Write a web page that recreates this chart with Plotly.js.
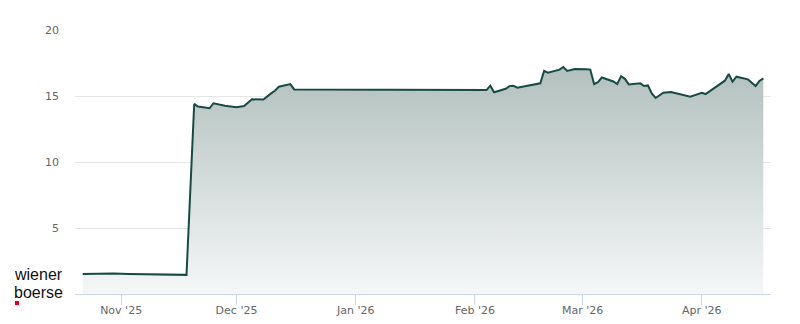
<!DOCTYPE html>
<html>
<head>
<meta charset="utf-8">
<script src="https://cdn.plot.ly/plotly-3.0.1.min.js"></script>
<style>html,body{margin:0;padding:0;background:#fff}#chart{width:800px;height:324px}</style>
</head>
<body>
<div id="chart"></div>
<script>
const dates = [
  '2025-10-22','2025-10-27','2025-10-30','2025-11-03','2025-11-06','2025-11-10','2025-11-11','2025-11-12','2025-11-13','2025-11-14','2025-11-18',
  '2025-11-20','2025-11-21','2025-11-24','2025-11-25','2025-11-28','2025-12-01','2025-12-03','2025-12-05','2025-12-08','2025-12-09','2025-12-10','2025-12-11','2025-12-12','2025-12-15','2025-12-16',
  '2026-02-04','2026-02-05','2026-02-06','2026-02-09','2026-02-10','2026-02-11','2026-02-12','2026-02-18','2026-02-19','2026-02-20','2026-02-23','2026-02-24','2026-02-25','2026-02-26','2026-02-27',
  '2026-03-02','2026-03-03','2026-03-04','2026-03-05','2026-03-06','2026-03-09','2026-03-10','2026-03-11','2026-03-12','2026-03-13','2026-03-16','2026-03-17','2026-03-18','2026-03-19','2026-03-20',
  '2026-03-22','2026-03-24','2026-03-29','2026-04-01','2026-04-02','2026-04-07','2026-04-08','2026-04-09','2026-04-10','2026-04-13','2026-04-15','2026-04-16','2026-04-17'
];
const prices = [
  1.52,1.55,1.55,1.52,1.50,1.47,1.50,1.46,1.50,1.45,1.45,
  14.40,14.20,14.07,14.45,14.27,14.14,14.24,14.75,14.73,15.00,15.20,15.40,15.70,15.90,15.50,
  15.45,15.78,15.28,15.55,15.75,15.78,15.63,15.96,16.90,16.77,17.00,17.20,16.90,16.95,17.05,
  17.02,17.00,15.90,16.05,16.40,16.10,15.90,16.50,16.30,15.88,15.96,15.76,15.80,15.20,14.85,
  15.25,15.30,14.95,15.25,15.15,16.16,16.67,16.08,16.46,16.26,15.76,16.14,16.34
];
const xTickVals = ['2025-11-01','2025-12-01','2026-01-01','2026-02-01','2026-03-01','2026-04-01'];
const xTickText = ["Nov '25","Dec '25","Jan '26","Feb '26","Mar '26","Apr '26"];
const yTickVals = [5,10,15,20];
const yTickText = ['5','10','15','20'];

const trace = {
  x: dates, y: prices, type: 'scatter', mode: 'lines',
  line: {color: '#174a44', width: 2},
  fill: 'tozeroy',
  fillgradient: {type: 'vertical', start: 0, stop: 17.2,
    colorscale: [[0, 'rgb(245,247,247)'], [1, 'rgb(178,192,190)']]},
  hoverinfo: 'skip'
};
const font = {family: 'DejaVu Sans, sans-serif', size: 11, color: '#666666'};
const layout = {
  width: 800, height: 324,
  margin: {l: 75, r: 29, t: 30, b: 30},
  paper_bgcolor: '#ffffff', plot_bgcolor: '#ffffff',
  showlegend: false,
  font: font,
  xaxis: {
    type: 'date', range: ['2025-10-20', '2026-04-19'],
    tickvals: xTickVals, ticktext: xTickText,
    ticks: 'outside', ticklen: 10, tickcolor: '#ccd6eb', tickwidth: 1,
    ticklabelstandoff: -4,
    showline: true, linecolor: '#ccd6eb', linewidth: 1,
    showgrid: false, zeroline: false, tickfont: font, fixedrange: true
  },
  yaxis: {
    range: [0, 20], tickvals: yTickVals, ticktext: yTickText,
    ticks: '', ticklabelstandoff: 15,
    showgrid: true, gridcolor: '#e6e6e6', gridwidth: 1,
    zeroline: false, showline: false, tickfont: font, fixedrange: true
  },
  annotations: [
    {text: 'wiener', xref: 'paper', yref: 'paper', x: -0.091, y: 0.072, xanchor: 'left', yanchor: 'middle',
     showarrow: false, font: {family: 'Liberation Sans, Arial, sans-serif', size: 16, color: '#111111'}},
    {text: 'boerse', xref: 'paper', yref: 'paper', x: -0.091, y: 0.006, xanchor: 'left', yanchor: 'middle',
     showarrow: false, font: {family: 'Liberation Sans, Arial, sans-serif', size: 16, color: '#111111'}}
  ],
  shapes: [
    {type: 'rect', xref: 'paper', yref: 'paper', x0: -0.0862, x1: -0.0805, y0: -0.042, y1: -0.0265,
     fillcolor: '#e2001a', line: {width: 0}}
  ]
};
Plotly.newPlot('chart', [trace], layout, {staticPlot: true, displayModeBar: false});
</script>
</body>
</html>
